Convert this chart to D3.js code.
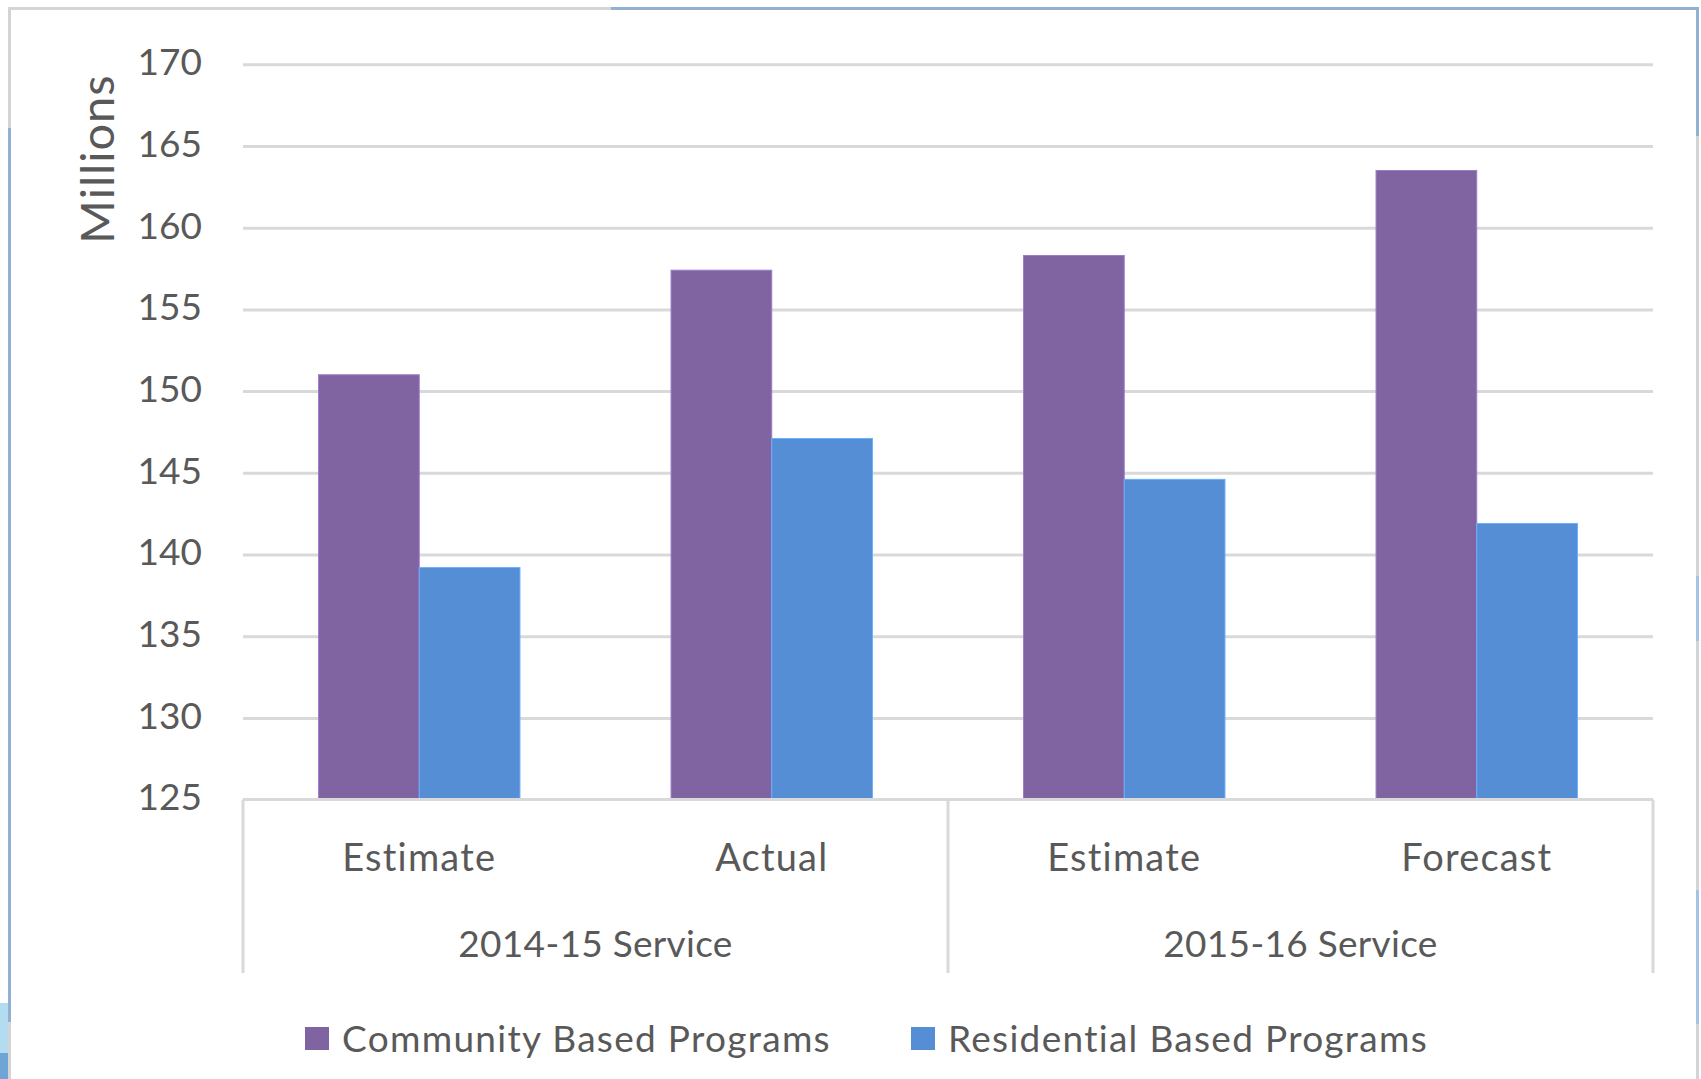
<!DOCTYPE html>
<html>
<head>
<meta charset="utf-8">
<script src="https://cdn.jsdelivr.net/npm/d3@7"></script>
<style>
	body { margin: 0; background: #fff; }
	text { font-family: Lato, "Open Sans", sans-serif; fill: #595959; }
</style>
</head>
<body>
<div id="chart-area"></div>
<script>
// chart data
var groups = ['2014-15 Service', '2015-16 Service'];
var categories = ['Estimate', 'Actual', 'Estimate', 'Forecast'];
var seriesNames = ['Community Based Programs', 'Residential Based Programs'];
var community = [151.0, 157.4, 158.3, 163.5];
var residential = [139.2, 147.1, 144.6, 141.9];
var yTicks = [125, 130, 135, 140, 145, 150, 155, 160, 165, 170];
var colors = ['#8064a2', '#558ed5'];

var width = 1701;
var height = 1079;

var svg = d3.select('#chart-area')
	.append('svg')
	.attr('width', width)
	.attr('height', height);

var plot = { left: 243, right: 1653, top: 64.3, bottom: 799.6 };

var x = d3.scaleBand()
	.domain(d3.range(categories.length))
	.range([plot.left, plot.right])
	.paddingInner(1.5 / 3.5)
	.paddingOuter(0.75 / 3.5);

var x1 = d3.scaleBand()
	.domain(d3.range(seriesNames.length))
	.range([0, x.bandwidth()]);

var y = d3.scaleLinear()
	.domain([125, 170])
	.range([plot.bottom, plot.top]);

// gridlines
svg.append('g')
	.attr('transform', 'translate(' + plot.left + ',0)')
	.call(d3.axisLeft(y).tickValues(yTicks.slice(1)).tickSize(-(plot.right - plot.left)).tickFormat(''))
	.call(g => g.select('.domain').remove())
	.selectAll('line')
		.attr('stroke', '#d9d9d9')
		.attr('stroke-width', 3);

// y labels
svg.append('g')
	.attr('transform', 'translate(202,0)')
	.call(d3.axisLeft(y).tickValues(yTicks).tickSize(0).tickPadding(0))
	.call(g => g.select('.domain').remove())
	.selectAll('text')
		.attr('font-size', 37)
		.attr('font-family', 'Lato')
		.attr('fill', '#595959')
		.attr('dy', '0.28em');

svg.append('text')
	.attr('transform', 'translate(114,159) rotate(-90)')
	.attr('text-anchor', 'middle')
	.attr('font-size', 47)
	.attr('letter-spacing', 1)
	.text('Millions');

// bars
var series = [community, residential];
series.forEach(function(vals, s) {
	svg.append('g')
		.selectAll('rect')
		.data(vals)
		.enter()
			.append('rect')
			.attr('x', (d, i) => x(i) + x1(s))
			.attr('y', d => y(d))
			.attr('width', x1.bandwidth())
			.attr('height', d => y(125) - y(d))
			.attr('fill', colors[s])
			.attr('stroke', d3.color(colors[s]).brighter(0.6))
			.attr('stroke-width', 1);
});

// category axis
var step = x.step();
var axisG = svg.append('g').attr('stroke', '#d9d9d9').attr('stroke-width', 3);
axisG.append('line')
	.attr('x1', plot.left).attr('x2', plot.right)
	.attr('y1', plot.bottom).attr('y2', plot.bottom);
var bounds = [0, 2, 4];
axisG.selectAll('.div')
	.data(bounds)
	.enter()
		.append('line')
		.attr('x1', d => plot.left + d * step)
		.attr('x2', d => plot.left + d * step)
		.attr('y1', plot.bottom)
		.attr('y2', 973);

svg.append('g')
	.selectAll('text')
	.data(categories)
	.enter()
		.append('text')
		.attr('x', (d, i) => x(i) + x.bandwidth() / 2)
		.attr('y', 871)
		.attr('text-anchor', 'middle')
		.attr('font-size', 38)
		.attr('letter-spacing', 1.2)
		.text(d => d);

svg.append('g')
	.selectAll('text')
	.data(groups)
	.enter()
		.append('text')
		.attr('x', (d, g) => plot.left + (g * 2 + 1) * step)
		.attr('y', 957)
		.attr('text-anchor', 'middle')
		.attr('font-size', 37)
		.attr('letter-spacing', 0.3)
		.text(d => d);

// legend
var legendX = [305, 911];
var legend = svg.append('g')
	.selectAll('g')
	.data(seriesNames)
	.enter()
		.append('g')
		.attr('transform', (d, i) => 'translate(' + legendX[i] + ',1027)');
legend.append('rect')
	.attr('width', 24)
	.attr('height', 23)
	.attr('fill', (d, i) => colors[i]);
legend.append('text')
	.attr('x', 37)
	.attr('y', 25)
	.attr('font-size', 37)
	.attr('letter-spacing', 1.3)
	.text(d => d);

// outer frame (selection border of the original)
var frame = svg.append('g').attr('fill', 'none').attr('stroke-width', 3);
frame.append('path').attr('stroke', '#d4d4d4')
	.attr('d', 'M9.5,1079 V8.5 H611');
frame.append('path').attr('stroke', '#92b0cf')
	.attr('d', 'M611,8.5 H1697.5 V136');
frame.append('path').attr('stroke', '#d4d4d4')
	.attr('d', 'M1697.5,136 V1079');
frame.append('path').attr('stroke', '#92b0cf')
	.attr('d', 'M9.5,128 V1022');
frame.append('path').attr('stroke', '#a4c4e4')
	.attr('d', 'M1697.5,576 V641 M1697.5,890 V1024');
svg.append('rect').attr('x', 0).attr('y', 1003).attr('width', 8).attr('height', 50).attr('fill', '#b4dcf0');
svg.append('rect').attr('x', 0).attr('y', 1053).attr('width', 8).attr('height', 26).attr('fill', '#6fa5d6');
</script>
</body>
</html>
